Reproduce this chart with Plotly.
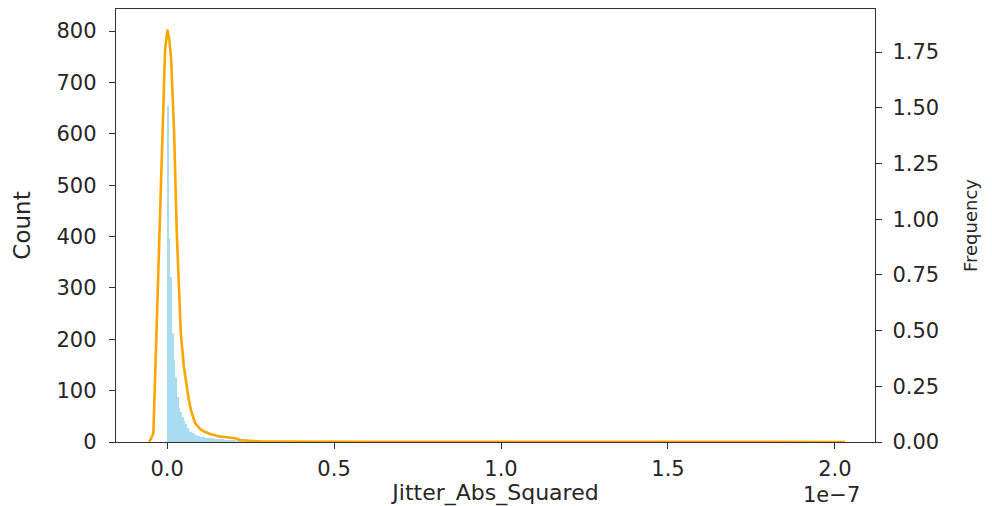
import plotly.graph_objects as go

# ---- data (x in units of 1e-7) ----
bin_width = 0.005
counts = [655, 397, 321, 212, 160, 126, 88, 66, 58, 48, 40, 35, 28, 22, 19, 17, 15, 14, 12, 11,
          10, 9, 9, 8, 8, 8, 7, 7, 6, 6, 6, 5, 5, 5, 4, 4, 4, 4, 3, 3,
          3, 2, 3, 2, 2, 2, 1, 2, 1, 1, 1, 1, 0, 1, 1, 0, 0, 1, 0, 1,
          0, 0, 1, 0, 0, 0, 1, 0, 0, 1]
bin_centers = [bin_width * (i + 0.5) for i in range(len(counts))]

kde_x = [-0.054, -0.048, -0.041, -0.030, -0.018, -0.006, 0.001, 0.007, 0.012, 0.021, 0.029,
         0.041, 0.050, 0.057, 0.065, 0.072, 0.084, 0.099, 0.114, 0.129, 0.159, 0.180, 0.195,
         0.204, 0.219, 0.249, 0.278, 0.33, 0.40, 0.50, 0.60, 0.70, 0.85, 1.0, 1.2, 1.4, 1.6,
         1.8, 2.03]
kde_y = [0.0, 0.015, 0.04, 0.58, 1.17, 1.76, 1.85, 1.80, 1.72, 1.39, 0.94,
         0.49, 0.34, 0.26, 0.19, 0.14, 0.085, 0.058, 0.045, 0.036, 0.024, 0.021, 0.019,
         0.017, 0.009, 0.004, 0.002, 0.002, 0.001, 0.0015, 0.0008, 0.001, 0.0005, 0.0007,
         0.0004, 0.0005, 0.0003, 0.0004, 0.0002]

x_ticks = [0.0, 0.5, 1.0, 1.5, 2.0]
x_tick_labels = ["0.0", "0.5", "1.0", "1.5", "2.0"]
count_ticks = [0, 100, 200, 300, 400, 500, 600, 700, 800]
freq_ticks = [0.0, 0.25, 0.5, 0.75, 1.0, 1.25, 1.5, 1.75]
freq_tick_labels = ["0.00", "0.25", "0.50", "0.75", "1.00", "1.25", "1.50", "1.75"]

FONT = "DejaVu Sans"
AX = "#333333"
TXT = "#262626"

fig = go.Figure()
fig.add_trace(go.Bar(
    x=bin_centers, y=counts, width=bin_width,
    marker=dict(color="rgba(135,206,235,0.72)", line=dict(width=0)),
    yaxis="y", showlegend=False, hoverinfo="x+y"))
fig.add_trace(go.Scatter(
    x=kde_x, y=kde_y, mode="lines",
    line=dict(color="#FFA500", width=2.6),
    yaxis="y2", showlegend=False))

axis_common = dict(showline=True, linecolor=AX, linewidth=1.4, ticks="outside",
                   ticklen=6, tickwidth=1.3, tickcolor=AX, showgrid=False, zeroline=False,
                   automargin=False,
                   tickfont=dict(family=FONT, size=21, color=TXT))

fig.update_layout(
    width=992, height=506,
    margin=dict(l=116, r=117, t=9, b=64),
    paper_bgcolor="white", plot_bgcolor="white",
    bargap=0,
    xaxis=dict(range=[-0.153, 2.12], tickvals=x_ticks, ticktext=x_tick_labels,
               mirror=True, ticklabelstandoff=2,
               title=dict(text="Jitter_Abs_Squared", font=dict(family=FONT, size=22, color=TXT),
                          standoff=9),
               **axis_common),
    yaxis=dict(range=[0, 843], tickvals=count_ticks, ticklabelstandoff=8,
               title=dict(text="Count", font=dict(family=FONT, size=23, color=TXT), standoff=19),
               **axis_common),
    yaxis2=dict(range=[0, 1.943], tickvals=freq_ticks, ticktext=freq_tick_labels,
                overlaying="y", side="right", ticklabelstandoff=6,
                title=dict(text="Frequency", font=dict(family=FONT, size=18, color=TXT), standoff=26),
                **axis_common),
    annotations=[dict(text="1e\u22127", xref="paper", yref="paper", x=0.943, y=-0.122,
                      xanchor="center", yanchor="middle", showarrow=False,
                      font=dict(family=FONT, size=21, color=TXT))],
)

fig.write_html("out.html")
